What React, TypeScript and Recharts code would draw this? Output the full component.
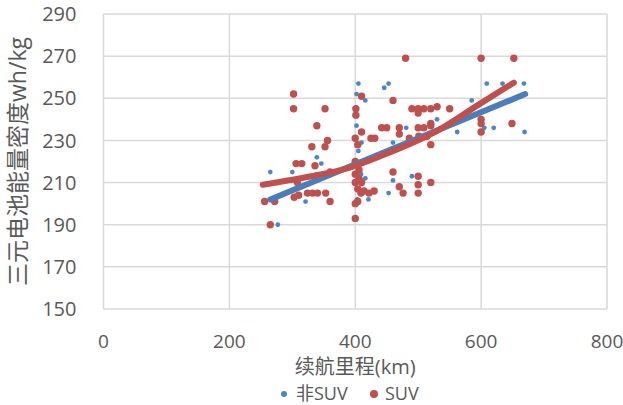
import { ScatterChart, Scatter, XAxis, YAxis, CartesianGrid, Legend } from "recharts"

// 非SUV (blue) points: [range km, energy density wh/kg]
const nonSuvX = [265, 300, 277, 321, 339, 346, 339, 405, 402, 446, 453, 416, 402, 410, 405, 460, 481, 530, 416, 409, 460, 490, 453, 421, 403, 562, 585, 609, 634, 668, 605, 620, 669]
const nonSuvY = [215, 215, 190, 201, 222, 219, 214, 257, 252, 255, 257, 249, 237, 229, 225, 229, 236, 240, 212, 214, 211, 213, 205, 202, 202, 234, 249, 257, 257, 257, 236, 236, 234]

// SUV (red) points
const suvX = [256, 272, 265, 302, 302, 352, 339, 356, 331, 352, 306, 315, 336, 308, 303, 310, 324, 332, 340, 353, 360, 360, 480, 600, 652, 410, 460, 401, 401, 490, 500, 509, 520, 530, 550, 500, 442, 450, 470, 470, 410, 500, 509, 520, 520, 400, 404, 425, 431, 486, 501, 514, 400, 400, 400, 400, 404, 409, 414, 422, 430, 400, 404, 400, 460, 470, 476, 500, 500, 500, 520, 600, 600, 600, 649, 520, 406, 410, 406]
const suvY = [201, 201, 190, 252, 245, 245, 237, 230, 227, 227, 219, 219, 218, 210, 203, 204, 205, 205, 205, 205, 201, 215, 269, 269, 269, 251, 249, 245, 242, 245, 245, 245, 245, 246, 245, 243, 236, 236, 236, 233, 234, 236, 236, 237, 238, 231, 228, 231, 231, 231, 232, 232, 220, 219, 214, 210, 207, 205, 206, 205, 206, 200, 201, 193, 215, 208, 205, 213, 209, 205, 210, 240, 238, 234, 238, 228, 212, 210, 216]

// trend lines
const nonSuvTrendX = [265, 670]
const nonSuvTrendY = [202, 252]
const suvTrendX = [253, 330, 390, 438, 533, 596, 652]
const suvTrendY = [209, 213, 217, 222.3, 235, 247, 257.4]

const xTicks = [0, 200, 400, 600, 800]
const yTicks = [150, 170, 190, 210, 230, 250, 270, 290]

const zip = (xs: number[], ys: number[]) => xs.map((x, i) => ({ x, y: ys[i] }))

const nonSuv = zip(nonSuvX, nonSuvY)
const suv = zip(suvX, suvY)
const nonSuvTrend = zip(nonSuvTrendX, nonSuvTrendY)
const suvTrend = zip(suvTrendX, suvTrendY)

const BLUE = "#4A86D0"
const BLUE_LINE = "#4A7EBB"
const RED = "#C0504D"
const TEXT = "#595959"
const FONT = "'Open Sans', 'Noto Sans CJK SC', sans-serif"

const LegendBox = () => (
    <div style={{ position: "relative", height: 24, fontFamily: FONT, fontSize: 18, color: TEXT, lineHeight: "24px" }}>
        <span style={{ position: "absolute", left: 281, top: 10, width: 6, height: 6, borderRadius: 3, background: BLUE }} />
        <span style={{ position: "absolute", left: 296, top: 0 }}>非SUV</span>
        <span style={{ position: "absolute", left: 370, top: 9, width: 8, height: 8, borderRadius: 4, background: RED }} />
        <span style={{ position: "absolute", left: 385, top: 0 }}>SUV</span>
    </div>
)

const none = () => <g />

export default function App() {
    return <div style={{ position: "absolute", left: 0, top: 0, background: "#fff" }}>
        <ScatterChart width={623} height={405} margin={{ top: 14, right: 16, bottom: 0, left: 0 }}>
            <CartesianGrid stroke="#d9d9d9" strokeWidth={1.5} />
            <XAxis type="number" dataKey="x" domain={[0, 800]} ticks={xTicks} height={72}
                axisLine={false} tickLine={false} tickSize={0} tickMargin={26}
                tick={{ fill: TEXT, fontSize: 19, fontFamily: FONT }}
                label={{ value: "续航里程(km)", position: "insideTop", offset: 51, fill: TEXT, fontSize: 20, fontFamily: FONT }} />
            <YAxis type="number" dataKey="y" domain={[150, 290]} ticks={yTicks} width={103.5}
                axisLine={false} tickLine={false} tickSize={0} tickMargin={27}
                tick={{ fill: TEXT, fontSize: 20, fontFamily: FONT }}
                label={{ value: "三元电池能量密度wh/kg", angle: -90, position: "insideLeft", offset: 17.5, fill: TEXT, fontSize: 23, fontFamily: FONT, style: { textAnchor: "middle" } }} />
            <Scatter name="非SUV" data={nonSuv} fill={BLUE} isAnimationActive={false}
                shape={(p: any) => <circle cx={p.cx} cy={p.cy} r={2.4} fill={BLUE} />} />
            <Scatter name="SUV" data={suv} fill={RED} isAnimationActive={false}
                shape={(p: any) => <circle cx={p.cx} cy={p.cy} r={3.7} fill={RED} />} />
            <Scatter data={nonSuvTrend} fill={BLUE_LINE} legendType="none" isAnimationActive={false}
                line={{ stroke: BLUE_LINE, strokeWidth: 6, strokeLinecap: "round" }} shape={none} />
            <Scatter data={suvTrend} fill={RED} legendType="none" isAnimationActive={false} lineJointType="monotoneX"
                line={{ stroke: RED, strokeWidth: 6, strokeLinecap: "round" }} shape={none} />
            <Legend verticalAlign="bottom" content={() => <LegendBox />} />
        </ScatterChart>
    </div>
}
